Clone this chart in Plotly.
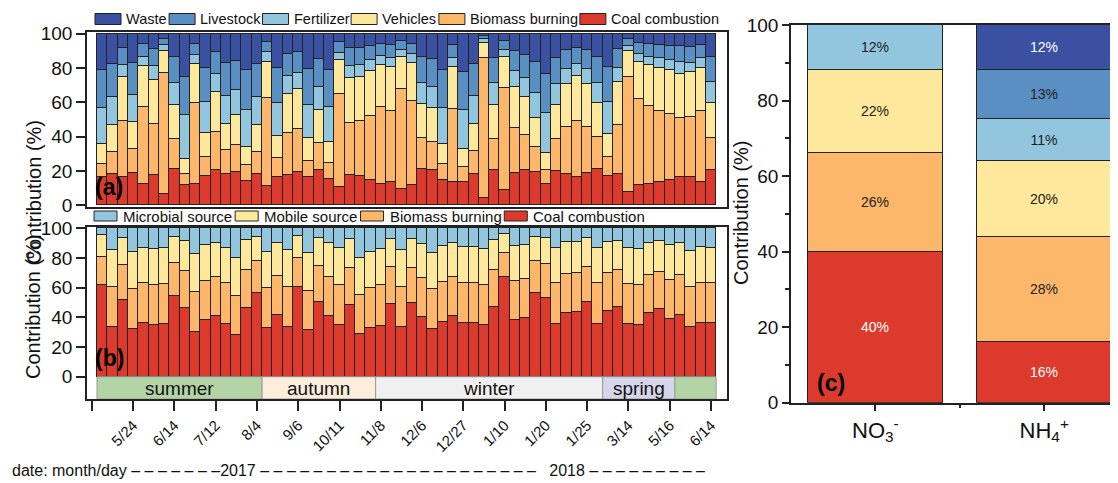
import plotly.graph_objects as go

# ---------------- data ----------------
bar_idx = list(range(1, 61))

a_coal = [16.6, 18.5, 16.6, 18.9, 12.7, 17.5, 6.8, 20.9, 11.7, 12.3,
          17.0, 20.5, 18.5, 19.5, 14.2, 18.5, 11.3, 16.6, 17.5, 19.5,
          16.2, 20.5, 15.2, 10.7, 17.5, 17.2, 15.0, 12.7, 13.6, 9.7,
          11.7, 20.9, 20.5, 15.0, 13.6, 13.6, 18.5, 4.5, 20.5, 9.2,
          18.9, 20.5, 19.5, 12.7, 20.1, 18.5, 16.6, 18.9, 20.9, 17.0,
          18.5, 7.8, 11.7, 12.7, 13.6, 14.6, 16.6, 16.2, 13.6, 20.5]
a_biomass = [7.4, 12.7, 32.7, 13.8, 44.8, 29.9, 70.2, 17.7, 6.4, 47.2,
             11.3, 22.4, 13.7, 15.6, 9.2, 12.7, 51.1, 10.7, 24.5, 24.7,
             9.9, 16.0, 9.6, 54.2, 30.3, 32.1, 37.0, 44.8, 41.6, 57.9,
             49.3, 18.1, 16.5, 9.0, 42.3, 8.8, 13.3, 81.3, 17.9, 59.0,
             25.9, 20.4, 14.2, 7.8, 18.3, 27.3, 32.7, 26.5, 18.7, 10.9,
             28.3, 66.9, 50.1, 45.2, 41.6, 38.6, 34.1, 35.1, 41.6, 18.5]
a_vehicles = [11.7, 15.6, 25.7, 16.0, 23.8, 25.7, 13.1, 19.9, 8.6, 22.8,
              13.6, 23.4, 15.2, 17.5, 10.7, 15.6, 21.4, 13.1, 23.0, 23.4,
              13.3, 19.1, 12.2, 19.5, 26.3, 25.7, 26.0, 24.4, 25.3, 18.8,
              22.2, 20.0, 19.5, 11.7, 24.6, 10.7, 15.6, 8.7, 20.1, 18.2,
              24.4, 22.5, 17.0, 9.7, 20.1, 25.0, 26.1, 25.4, 20.2, 13.6,
              25.3, 15.0, 21.6, 24.0, 25.1, 25.4, 25.7, 26.3, 24.7, 20.8]
a_fertilizer = [20.8, 16.6, 6.9, 15.6, 5.4, 7.8, 3.5, 12.7, 25.9, 5.4,
                18.5, 10.1, 16.3, 14.7, 21.5, 16.6, 5.3, 19.4, 10.5, 9.4,
                18.9, 13.2, 20.1, 4.6, 7.2, 6.9, 6.4, 5.2, 5.3, 4.2,
                5.1, 12.5, 12.7, 20.8, 5.3, 22.5, 16.3, 2.4, 12.7, 3.9,
                8.8, 10.7, 15.0, 23.8, 12.3, 8.5, 7.1, 8.5, 11.7, 18.9,
                7.8, 2.9, 4.9, 4.8, 5.5, 6.2, 7.4, 5.6, 5.9, 12.3]
a_livestock = [22.1, 18.9, 9.7, 18.5, 7.3, 10.3, 3.3, 15.0, 22.4, 6.5,
               19.9, 12.7, 19.1, 16.9, 23.0, 18.9, 5.8, 20.1, 12.5, 12.1,
               21.2, 16.4, 21.8, 5.9, 10.3, 9.7, 8.6, 7.1, 7.8, 4.9,
               5.9, 15.2, 16.0, 22.1, 7.8, 21.8, 18.8, 1.5, 14.6, 5.2,
               11.7, 13.6, 17.7, 22.6, 15.0, 11.0, 9.1, 11.0, 15.2, 20.1,
               11.1, 4.3, 6.2, 7.5, 7.8, 7.8, 8.8, 9.0, 7.8, 14.6]
a_waste = [21.4, 17.7, 8.4, 17.2, 6.0, 8.8, 3.1, 13.8, 25.0, 5.8,
           19.7, 10.9, 17.2, 15.8, 21.4, 17.7, 5.1, 20.1, 12.0, 10.9,
           20.5, 14.8, 21.1, 5.1, 8.4, 8.4, 7.0, 5.8, 6.4, 4.5,
           5.8, 13.3, 14.8, 21.4, 6.4, 22.6, 17.5, 1.6, 14.2, 4.5,
           10.3, 12.3, 16.6, 23.4, 14.2, 9.7, 8.4, 9.7, 13.3, 19.5,
           9.0, 3.1, 5.5, 5.8, 6.4, 7.4, 7.4, 7.8, 6.4, 13.3]

b_coal = [61.8, 33.7, 51.7, 31.9, 36.0, 34.8, 35.5, 54.4, 46.1, 30.3,
          38.2, 40.9, 35.5, 28.1, 46.1, 56.6, 32.6, 41.6, 33.7, 60.7,
          31.5, 50.6, 40.9, 34.8, 48.3, 28.8, 32.6, 34.2, 49.0, 33.3,
          49.4, 40.0, 31.9, 37.1, 40.9, 36.4, 36.0, 34.8, 47.2, 67.4,
          38.2, 39.3, 56.6, 52.8, 35.5, 42.7, 43.8, 50.6, 35.5, 44.5,
          46.7, 35.5, 34.8, 42.7, 45.4, 38.7, 41.6, 33.3, 36.4, 36.0]
b_biomass = [19.1, 27.0, 23.6, 27.0, 26.9, 27.0, 27.0, 22.5, 25.4, 27.0,
             26.5, 26.1, 27.4, 26.3, 25.8, 21.6, 27.0, 26.3, 27.0, 19.1,
             26.5, 24.0, 26.5, 27.0, 24.7, 26.3, 27.0, 27.6, 24.7, 26.9,
             23.6, 26.3, 27.0, 26.9, 26.5, 27.0, 26.9, 27.0, 24.7, 15.7,
             26.5, 26.3, 21.6, 23.2, 27.4, 26.5, 25.9, 23.6, 27.4, 25.6,
             25.2, 27.0, 27.0, 25.8, 25.4, 26.5, 26.9, 26.9, 27.0, 26.9]
b_mobile = [14.6, 24.7, 18.0, 25.4, 23.6, 24.0, 24.0, 17.0, 20.2, 25.4,
            24.1, 22.9, 23.6, 25.4, 20.2, 16.2, 24.7, 22.4, 24.7, 15.0,
            25.1, 18.7, 22.5, 24.7, 19.6, 24.7, 24.7, 24.0, 18.9, 25.2,
            19.6, 23.1, 24.7, 24.1, 22.5, 24.2, 24.3, 24.0, 20.2, 13.1,
            23.4, 23.2, 15.7, 17.3, 23.6, 21.8, 21.3, 19.1, 23.6, 20.9,
            19.8, 24.0, 24.0, 21.8, 20.9, 23.6, 21.8, 24.7, 23.8, 23.6]
b_microbial = [4.5, 14.6, 6.7, 15.7, 13.5, 14.2, 13.5, 6.1, 8.3, 17.3,
               11.2, 10.1, 13.5, 20.2, 7.9, 5.6, 15.7, 9.7, 14.6, 5.2,
               16.9, 6.7, 10.1, 13.5, 7.4, 20.2, 15.7, 14.2, 7.4, 14.6,
               7.4, 10.6, 16.4, 11.9, 10.1, 12.4, 12.8, 14.2, 7.9, 3.8,
               11.9, 11.2, 6.1, 6.7, 13.5, 9.0, 9.0, 6.7, 13.5, 9.0,
               8.3, 13.5, 14.2, 9.7, 8.3, 11.2, 9.7, 15.1, 12.8, 13.5]

tick_pos = list(range(4, 61, 4))
tick_labels = ["5/24", "6/14", "7/12", "8/4", "9/6", "10/11", "11/8",
               "12/6", "12/27", "1/10", "1/20", "1/25", "3/14", "5/16", "6/14"]

season_names = ["summer", "autumn", "winter", "spring", ""]
season_start = [0.5, 16.5, 27.5, 49.5, 56.5]
season_end = [16.5, 27.5, 49.5, 56.5, 60.5]
season_colors = ["#b3d5a6", "#fdeedb", "#f0f0f0", "#d6d6ea", "#b3d5a6"]

c_species = ["NO<sub>3</sub><sup>-</sup>", "NH<sub>4</sub><sup>+</sup>"]
c_pos = [0, 1]
c_coal = [40, 16]
c_biomass = [26, 28]
c_vehicles = [22, 20]
c_fertilizer = [12, 11]
c_livestock = [0, 13]
c_waste = [0, 12]

legend_a = ["Waste", "Livestock", "Fertilizer", "Vehicles", "Biomass burning", "Coal combustion"]
legend_b = ["Microbial source", "Mobile source", "Biomass burning", "Coal combustion"]

# ---------------- styles ----------------
COL = {
    "Waste": "#3a50a1",
    "Livestock": "#5a8fc3",
    "Fertilizer": "#92c5de",
    "Microbial source": "#92c5de",
    "Vehicles": "#fee89b",
    "Mobile source": "#fee89b",
    "Biomass burning": "#fdb76b",
    "Coal combustion": "#dc3a2c",
}
EDGE = dict(color="#222222", width=1)
FONT = "Liberation Sans, Arial, sans-serif"
OFF = 8                      # page body margin
W, H = 1118 - OFF, 483 - OFF

def px(x):
    return (x - OFF) / W

def py(y):
    return 1 - (y - OFF) / H

# approximate Arial advance widths (em units) for legend layout
CW = {" ": .278, "a": .556, "b": .556, "c": .5, "e": .556, "g": .556, "h": .556,
      "i": .222, "k": .5, "l": .222, "m": .833, "n": .556, "o": .556, "r": .333,
      "s": .5, "t": .278, "u": .556, "v": .5, "z": .5, "B": .667, "C": .722,
      "F": .611, "L": .556, "M": .833, "V": .667, "W": .944}

def text_w(s, size):
    return sum(CW.get(ch, .556) for ch in s) * size

fig = go.Figure()

# panel (a)
for name, vals in [("Coal combustion", a_coal), ("Biomass burning", a_biomass),
                   ("Vehicles", a_vehicles), ("Fertilizer", a_fertilizer),
                   ("Livestock", a_livestock), ("Waste", a_waste)]:
    fig.add_trace(go.Bar(x=bar_idx, y=vals, name=name, width=1, showlegend=False,
                         marker=dict(color=COL[name], line=EDGE),
                         xaxis="x", yaxis="y"))

# panel (b)
for name, vals in [("Coal combustion", b_coal), ("Biomass burning", b_biomass),
                   ("Mobile source", b_mobile), ("Microbial source", b_microbial)]:
    fig.add_trace(go.Bar(x=bar_idx, y=vals, name=name, width=1, showlegend=False,
                         marker=dict(color=COL[name], line=EDGE),
                         xaxis="x2", yaxis="y2"))

# panel (c)
light_text = {"Waste": "white", "Coal combustion": "white"}
for name, vals in [("Coal combustion", c_coal), ("Biomass burning", c_biomass),
                   ("Vehicles", c_vehicles), ("Fertilizer", c_fertilizer),
                   ("Livestock", c_livestock), ("Waste", c_waste)]:
    fig.add_trace(go.Bar(x=c_pos, y=vals, width=0.8, showlegend=False, name=name,
                         text=[f"{v}%" if v else "" for v in vals],
                         textposition="inside", insidetextanchor="middle",
                         textangle=0,
                         textfont=dict(size=14, family=FONT,
                                       color=light_text.get(name, "#222222")),
                         marker=dict(color=COL[name], line=EDGE),
                         xaxis="x3", yaxis="y3"))

shapes = []
annotations = []

# season band
for nm, s, e, c in zip(season_names, season_start, season_end, season_colors):
    shapes.append(dict(type="rect", xref="x2", yref="y2", x0=s, x1=e,
                       y0=-15, y1=0, fillcolor=c,
                       line=dict(color="#9a9a9a", width=1), layer="above"))
    if nm:
        annotations.append(dict(xref="x2", yref="y2", x=(s + e) / 2, y=-7.8,
                                text=nm, showarrow=False,
                                font=dict(size=19, family=FONT, color="#111")))

# manual legends (rectangular keys like the original)
def add_legend(names, x_start, y_center, size, key_w, key_h, gap_in, gap_out):
    x = x_start
    for nm in names:
        shapes.append(dict(type="rect", xref="paper", yref="paper",
                           x0=px(x), x1=px(x + key_w),
                           y0=py(y_center + key_h / 2), y1=py(y_center - key_h / 2),
                           fillcolor=COL[nm], line=dict(color="#222", width=1)))
        tx = x + key_w + gap_in
        annotations.append(dict(xref="paper", yref="paper", x=px(tx), y=py(y_center),
                                xanchor="left", yanchor="middle", showarrow=False,
                                text=nm, font=dict(size=size, family=FONT, color="#111")))
        x = tx + text_w(nm, size) + gap_out

add_legend(legend_a, 95, 19, 14.5, 26, 11, 3, 4)
add_legend(legend_b, 94, 216, 15, 23, 10, 4, 5)

axis_common = dict(showline=True, linecolor="#222222", linewidth=1.5,
                   mirror=True, showgrid=False, zeroline=False, automargin=False)
yfont = dict(size=19, family=FONT, color="#111")

fig.update_layout(
    template="none",
    width=W, height=H, margin=dict(l=0, r=0, t=0, b=0, autoexpand=False),
    paper_bgcolor="white", plot_bgcolor="white",
    barmode="stack", bargap=0, showlegend=False,
    font=dict(family=FONT, color="#111"),
    xaxis=dict(domain=[px(87), px(727)], range=[-0.47, 61.55],
               showticklabels=False, ticks="", anchor="y", **axis_common),
    yaxis=dict(domain=[py(207), py(32)], range=[-1, 101], anchor="x",
               tickvals=[0, 20, 40, 60, 80, 100], ticks="outside", ticklen=9,
               tickwidth=1.5, tickcolor="#222", tickfont=yfont, **axis_common),
    xaxis2=dict(domain=[px(87), px(727)], range=[-0.47, 61.55], anchor="y2",
                tickmode="array", tickvals=tick_pos, ticktext=tick_labels,
                ticks="outside", ticklen=10, tickwidth=1.5, tickcolor="#222",
                tickangle=-45, tickfont=dict(size=15, family=FONT, color="#111"),
                minor=dict(tickmode="array", tickvals=[0], ticks="outside",
                           ticklen=10, tickwidth=1.5, tickcolor="#222"),
                **axis_common),
    yaxis2=dict(domain=[py(399), py(227)], range=[-15, 100.9], anchor="x2",
                tickvals=[0, 20, 40, 60, 80, 100], ticks="outside", ticklen=9,
                tickwidth=1.5, tickcolor="#222", tickfont=yfont, **axis_common),
    xaxis3=dict(domain=[px(791), px(1116)], range=[-0.5, 1.425], anchor="y3",
                tickmode="array", tickvals=c_pos, ticktext=c_species,
                ticks="outside", ticklen=7, tickwidth=1.5, tickcolor="#222",
                tickfont=dict(size=22, family=FONT, color="#111"),
                minor=dict(tickmode="array", tickvals=[0.5], ticks="outside",
                           ticklen=4, tickwidth=1.5, tickcolor="#222"),
                **axis_common),
    yaxis3=dict(domain=[py(402.7), py(25)], range=[0, 100], anchor="x3",
                tickvals=[0, 20, 40, 60, 80, 100], ticks="outside", ticklen=7,
                tickwidth=1.5, tickcolor="#222", tickfont=yfont,
                minor=dict(dtick=10, ticks="outside", ticklen=4, tickwidth=1.5,
                           tickcolor="#222"),
                **axis_common),
    shapes=shapes,
)

lab = dict(showarrow=False, xref="paper", yref="paper")
annotations += [
    dict(x=px(93), y=py(202), xanchor="left", yanchor="bottom",
         text="<b>(a)</b>", font=dict(size=23, family=FONT, color="#000"), **lab),
    dict(x=px(93), y=py(373), xanchor="left", yanchor="bottom",
         text="<b>(b)</b>", font=dict(size=23, family=FONT, color="#000"), **lab),
    dict(x=px(815), y=py(398), xanchor="left", yanchor="bottom",
         text="<b>(c)</b>", font=dict(size=23, family=FONT, color="#000"), **lab),
    dict(x=px(20), y=py(118), textangle=-90, text="Contribution (%)",
         font=dict(size=20, family=FONT, color="#111"), **lab),
    dict(x=px(20), y=py(307), textangle=-90, text="Contribution (%)",
         font=dict(size=20, family=FONT, color="#111"), **lab),
    dict(x=px(741), y=py(213), textangle=-90, text="Contribution (%)",
         font=dict(size=20, family=FONT, color="#111"), **lab),
    dict(x=px(10), y=py(470), xanchor="left", yanchor="middle",
         text="date: month/day " + "– " * 6 + "–2017 " + "– " * 21 + "  2018 " + "– " * 9,
         font=dict(size=16, family=FONT, color="#111"), **lab),
]
fig.update_layout(annotations=annotations)

fig.write_html("out.html")
